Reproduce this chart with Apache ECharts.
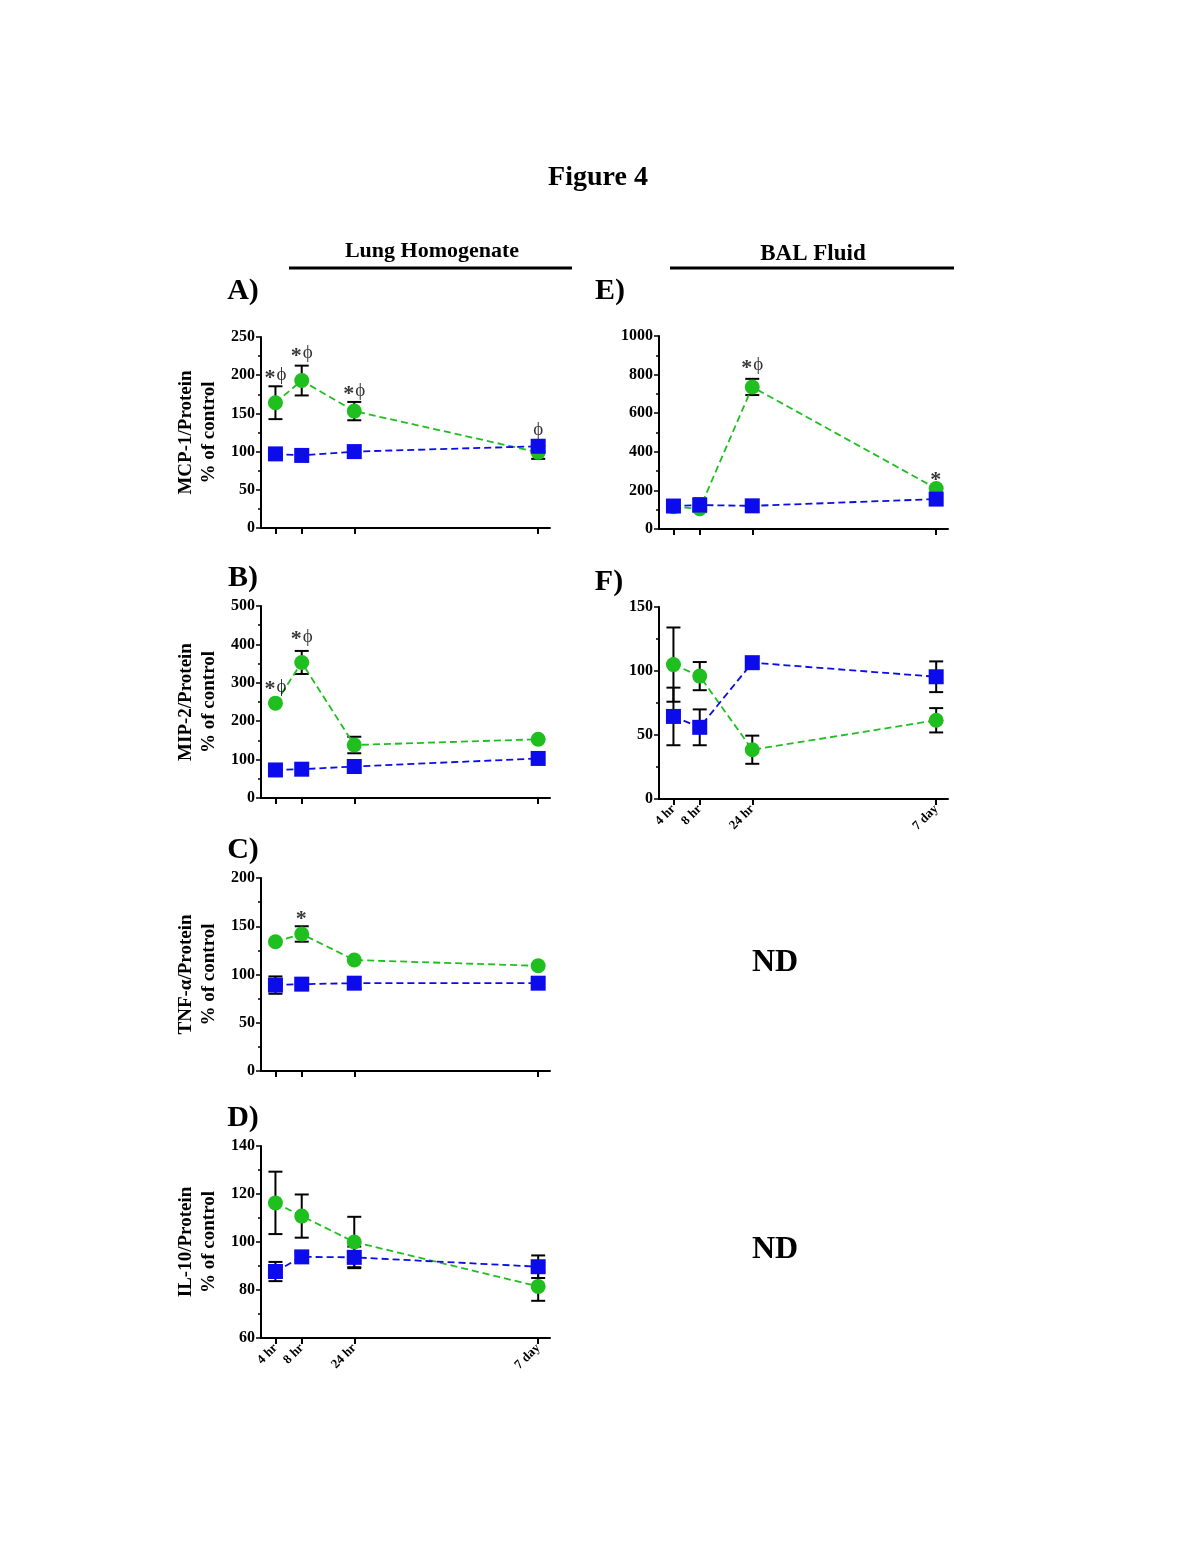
<!DOCTYPE html>
<html>
<head>
<meta charset="utf-8">
<script src="https://cdn.jsdelivr.net/npm/echarts@6/dist/echarts.min.js"></script>
<style>
html,body{margin:0;padding:0;background:#fff;}
#chart{width:1200px;height:1553px;}
</style>
</head>
<body>
<div id="chart"></div>
<script>
// ---- data ----
const xPositions = [1, 2, 4, 11];
const xLabels = ['4 hr', '8 hr', '24 hr', '7 day'];

// A) MCP-1 lung homogenate
const aGreen = [164, 193, 153, 99];
const aGreenErr = [21.5, 19.5, 12, 8.5];
const aBlue = [97, 95, 100, 107];
const aBlueErr = [0, 0, 0, 0];
const aNotes = [[1, 200, '*ϕ'], [2, 229, '*ϕ'], [4, 179, '*ϕ'], [11, 128, 'ϕ']];

// B) MIP-2 lung homogenate
const bGreen = [247, 353, 138, 153];
const bGreenErr = [0, 30, 21.5, 0];
const bBlue = [73, 75, 82, 103];
const bBlueErr = [0, 0, 0, 0];
const bNotes = [[1, 290, '*ϕ'], [2, 420, '*ϕ']];

// C) TNF-alpha lung homogenate
const cGreen = [134, 142, 115, 109];
const cGreenErr = [0, 8, 0, 0];
const cBlue = [89, 90, 91, 91];
const cBlueErr = [9, 0, 6, 0];
const cNotes = [[2, 160, '*']];

// D) IL-10 lung homogenate
const dGreen = [116.3, 110.8, 100, 81.5];
const dGreenErr = [13, 9, 10.5, 6];
const dBlue = [87.7, 93.8, 93.6, 89.7];
const dBlueErr = [4, 0, 4.5, 4.7];
const dNotes = [];

// E) MCP-1 BAL fluid
const eGreen = [115, 105, 736, 210];
const eGreenErr = [0, 0, 42, 0];
const eBlue = [119, 124, 120, 155];
const eBlueErr = [0, 35, 0, 0];
const eNotes = [[4, 848, '*ϕ'], [11, 268, '*']];

// F) MIP-2 BAL fluid
const fGreen = [105, 96, 38.5, 61.5];
const fGreenErr = [29, 11, 11, 9.5];
const fBlue = [64.5, 56, 106.5, 95.5];
const fBlueErr = [22.5, 14, 4, 12];
const fNotes = [];

// ---- layout ----
const GREEN = '#1fbf1f';
const BLUE = '#0b0bec';
const SERIF = '"Liberation Serif", "Times New Roman", "DejaVu Serif", serif';

const panels = [
  {grid: {left: 261, width: 289, top: 337, height: 191}, y: [0, 250, 50], name: 'MCP-1/Protein\n% of control', g: aGreen, ge: aGreenErr, b: aBlue, be: aBlueErr, notes: aNotes, labels: false},
  {grid: {left: 261, width: 289, top: 606, height: 192}, y: [0, 500, 100], name: 'MIP-2/Protein\n% of control', g: bGreen, ge: bGreenErr, b: bBlue, be: bBlueErr, notes: bNotes, labels: false},
  {grid: {left: 261, width: 289, top: 878, height: 193}, y: [0, 200, 50], name: 'TNF-α/Protein\n% of control', g: cGreen, ge: cGreenErr, b: cBlue, be: cBlueErr, notes: cNotes, labels: false},
  {grid: {left: 261, width: 289, top: 1146, height: 192}, y: [60, 140, 20], name: 'IL-10/Protein\n% of control', g: dGreen, ge: dGreenErr, b: dBlue, be: dBlueErr, notes: dNotes, labels: true},
  {grid: {left: 659, width: 289, top: 336, height: 193}, y: [0, 1000, 200], name: '', g: eGreen, ge: eGreenErr, b: eBlue, be: eBlueErr, notes: eNotes, labels: false},
  {grid: {left: 659, width: 289, top: 607, height: 192}, y: [0, 150, 50], name: '', g: fGreen, ge: fGreenErr, b: fBlue, be: fBlueErr, notes: fNotes, labels: true}
];

const grids = [], xAxes = [], yAxes = [], series = [];

function errSeries(i, vals, errs) {
  const data = [];
  vals.forEach((v, k) => { if (errs[k] > 0) data.push([xPositions[k], v - errs[k], v + errs[k]]); });
  return {
    type: 'custom', xAxisIndex: i, yAxisIndex: i, z: 1, silent: true,
    data: data,
    renderItem: function (params, api) {
      const x = api.value(0);
      const lo = api.coord([x, api.value(1)]);
      const hi = api.coord([x, api.value(2)]);
      const hw = 7;
      const st = {stroke: '#000', lineWidth: 2};
      return {type: 'group', children: [
        {type: 'line', shape: {x1: lo[0], y1: lo[1], x2: hi[0], y2: hi[1]}, style: st},
        {type: 'line', shape: {x1: lo[0] - hw, y1: lo[1], x2: lo[0] + hw, y2: lo[1]}, style: st},
        {type: 'line', shape: {x1: hi[0] - hw, y1: hi[1], x2: hi[0] + hw, y2: hi[1]}, style: st}
      ]};
    }
  };
}

function noteText(t) {
  return t.split('').map(ch => ch === '*' ? '{s|*}' : '{p|' + ch + '}').join('');
}

panels.forEach((p, i) => {
  grids.push(Object.assign({containLabel: false}, p.grid));
  xAxes.push({
    type: 'value', gridIndex: i, min: 0.45, max: 11.45,
    axisLine: {show: true, onZero: false, lineStyle: {color: '#000', width: 2}},
    axisTick: {show: true, customValues: xPositions, length: 6, lineStyle: {color: '#000', width: 2}},
    axisLabel: {show: p.labels, customValues: xPositions, rotate: 45, margin: 8,
      formatter: v => xLabels[xPositions.indexOf(v)] || '',
      fontFamily: SERIF, fontWeight: 'bold', fontSize: 13, color: '#000'},
    splitLine: {show: false}
  });
  yAxes.push({
    type: 'value', gridIndex: i, min: p.y[0], max: p.y[1], interval: p.y[2],
    name: p.name, nameLocation: 'middle', nameGap: 40, nameRotate: 90,
    nameTextStyle: {fontFamily: SERIF, fontWeight: 'bold', fontSize: 19, lineHeight: 23, color: '#000'},
    axisLine: {show: true, lineStyle: {color: '#000', width: 2}},
    axisTick: {show: true, length: 5, lineStyle: {color: '#000', width: 1.5}},
    minorTick: {show: true, splitNumber: 2, length: 3, lineStyle: {color: '#000', width: 1.5}},
    axisLabel: {fontFamily: SERIF, fontWeight: 'bold', fontSize: 16, color: '#000', margin: 6,
      formatter: v => String(v)},
    splitLine: {show: false}
  });
  series.push(errSeries(i, p.g, p.ge));
  series.push(errSeries(i, p.b, p.be));
  series.push({
    type: 'line', xAxisIndex: i, yAxisIndex: i, z: 3,
    data: p.g.map((v, k) => [xPositions[k], v]),
    symbol: 'circle', symbolSize: 15,
    itemStyle: {color: GREEN},
    lineStyle: {color: GREEN, width: 1.8, type: [7, 4]},
    animation: false
  });
  series.push({
    type: 'line', xAxisIndex: i, yAxisIndex: i, z: 4,
    data: p.b.map((v, k) => [xPositions[k], v]),
    symbol: 'rect', symbolSize: 15,
    itemStyle: {color: BLUE},
    lineStyle: {color: BLUE, width: 1.8, type: [7, 4]},
    animation: false
  });
  if (p.notes.length) {
    series.push({
      type: 'scatter', xAxisIndex: i, yAxisIndex: i, z: 5, symbolSize: 0,
      data: p.notes.map(n => ({value: [n[0], n[1]], label: {formatter: noteText(n[2])}})),
      label: {show: true, position: 'inside', color: '#000',
        rich: {
          s: {fontFamily: SERIF, fontWeight: 'bold', fontSize: 22, color: '#000', padding: [6, 1, 0, 0]},
          p: {fontFamily: SERIF, fontSize: 19, color: '#000'}
        }},
      animation: false
    });
  }
});

const txt = (x, y, t, size, extra) => Object.assign({
  type: 'text', x: x, y: y,
  style: {text: t, fontFamily: SERIF, fontWeight: 'bold', fontSize: size, fill: '#000', align: 'center', verticalAlign: 'middle'}
}, extra || {});

const graphics = [
  txt(598, 178, 'Figure 4', 28),
  txt(432, 251, 'Lung Homogenate', 22),
  txt(813, 254, 'BAL Fluid', 23),
  {type: 'line', shape: {x1: 289, y1: 268, x2: 572, y2: 268}, style: {stroke: '#000', lineWidth: 3}},
  {type: 'line', shape: {x1: 670, y1: 268, x2: 954, y2: 268}, style: {stroke: '#000', lineWidth: 3}},
  txt(243, 291, 'A)', 30),
  txt(243, 578, 'B)', 30),
  txt(243, 850, 'C)', 30),
  txt(243, 1118, 'D)', 30),
  txt(610, 291, 'E)', 30),
  txt(609, 582, 'F)', 30),
  txt(775, 963, 'ND', 32),
  txt(775, 1250, 'ND', 32)
];

const chart = echarts.init(document.getElementById('chart'), null, {renderer: 'canvas'});
chart.setOption({
  backgroundColor: '#fff',
  animation: false,
  grid: grids,
  xAxis: xAxes,
  yAxis: yAxes,
  series: series,
  graphic: graphics
});
</script>
</body>
</html>
